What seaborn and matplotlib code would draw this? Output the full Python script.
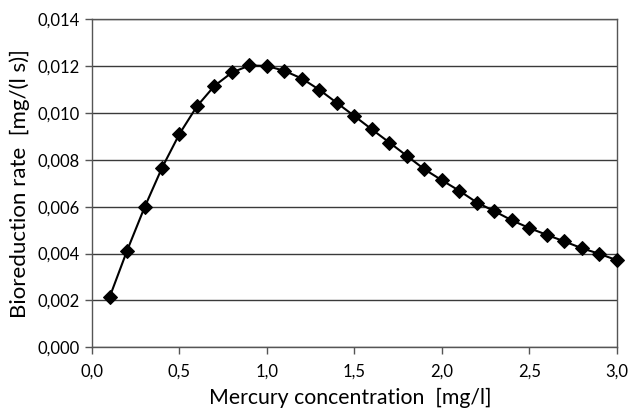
import matplotlib
matplotlib.use("Agg")
import matplotlib.pyplot as plt
import seaborn as sns
import pandas as pd
from matplotlib.ticker import FuncFormatter, MultipleLocator

concentration = [0.1, 0.2, 0.3, 0.4, 0.5, 0.6, 0.7, 0.8, 0.9, 1.0,
                 1.1, 1.2, 1.3, 1.4, 1.5, 1.6, 1.7, 1.8, 1.9, 2.0,
                 2.1, 2.2, 2.3, 2.4, 2.5, 2.6, 2.7, 2.8, 2.9, 3.0]
rate = [0.00213, 0.00412, 0.00597, 0.00766, 0.00911, 0.01029, 0.01116, 0.01173, 0.01203, 0.01201,
        0.01180, 0.01147, 0.01099, 0.01043, 0.00987, 0.00930, 0.00874, 0.00817, 0.00760, 0.00713,
        0.00668, 0.00618, 0.00581, 0.00542, 0.00509, 0.00480, 0.00452, 0.00423, 0.00399, 0.00372]

df = pd.DataFrame({"conc": concentration, "rate": rate})

sns.set_theme(style="white")
plt.rcParams['font.family'] = ['Lato', 'DejaVu Sans']

fig = plt.figure(figsize=(6.32, 4.09), dpi=100)
ax = fig.add_axes([0.1456, 0.1508, 0.976 - 0.1456, 0.9528 - 0.1508])

sns.lineplot(data=df, x="conc", y="rate", ax=ax, color="black", linewidth=1.5,
             marker="D", markersize=7, markeredgecolor="black", markerfacecolor="black",
             clip_on=False, zorder=5)

ax.set_xlim(0, 3.0)
ax.set_ylim(0, 0.014)
ax.xaxis.set_major_locator(MultipleLocator(0.5))
ax.yaxis.set_major_locator(MultipleLocator(0.002))
ax.xaxis.set_major_formatter(FuncFormatter(lambda v, p: f"{v:.1f}".replace(".", ",")))
ax.yaxis.set_major_formatter(FuncFormatter(lambda v, p: f"{v:.3f}".replace(".", ",")))

ax.yaxis.grid(True, color="#3a3a3a", linewidth=1.0)
ax.xaxis.grid(False)
ax.set_axisbelow(True)
for s in ax.spines.values():
    s.set_color("#555555")
    s.set_linewidth(1.0)

ax.tick_params(axis="both", which="major", direction="out", length=5, width=1,
               color="#555555", labelsize=12, labelcolor="black", bottom=True, left=True)
ax.tick_params(axis="x", pad=7)
ax.tick_params(axis="y", pad=4)

ax.set_xlabel("Mercury concentration  [mg/l]", fontsize=15.3, color="black")
ax.xaxis.set_label_coords(0.492, -0.124)
ax.set_ylabel("Bioreduction rate  [mg/(l s)]", fontsize=16, color="black")
ax.yaxis.set_label_coords(-0.118, 0.5)

fig.savefig("out.png", dpi=100)
